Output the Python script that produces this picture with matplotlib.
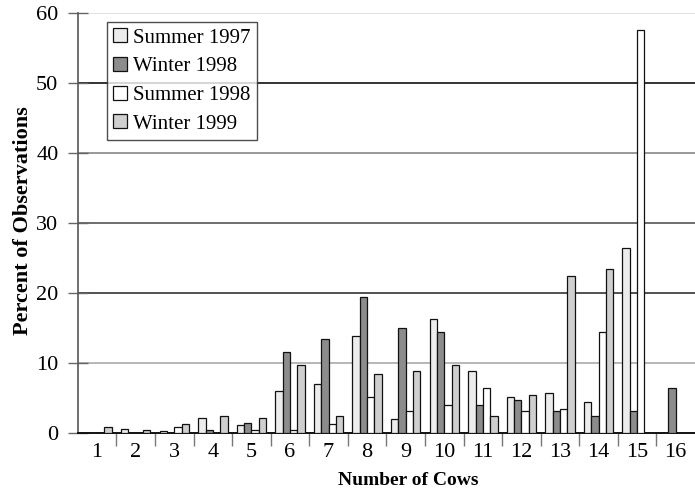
import matplotlib.pyplot as plt
import numpy as np

plt.rcParams["font.family"] = ["Liberation Serif", "DejaVu Serif"]

cows = list(range(1, 17))
summer_1997 = [0, 0.6, 0.3, 2.1, 1.2, 6.0, 7.0, 13.9, 2.0, 16.3, 8.8, 5.2, 5.8, 4.4, 26.4, 0]
winter_1998 = [0, 0, 0, 0.5, 1.4, 11.6, 13.4, 19.4, 15.0, 14.5, 4.0, 4.8, 3.1, 2.4, 3.1, 6.4]
summer_1998 = [0, 0, 0.9, 0, 0.5, 0.5, 1.3, 5.2, 3.1, 4.0, 6.4, 3.1, 3.5, 14.5, 57.5, 0]
winter_1999 = [0.9, 0.4, 1.3, 2.5, 2.1, 9.7, 2.4, 8.4, 8.8, 9.7, 2.4, 5.5, 22.5, 23.4, 0, 0]

series = [
    ("Summer 1997", summer_1997, "#ececec"),
    ("Winter 1998", winter_1998, "#8c8c8c"),
    ("Summer 1998", summer_1998, "#ffffff"),
    ("Winter 1999", winter_1999, "#cfcfcf"),
]

fig = plt.figure(figsize=(6.95, 4.95), dpi=100)
ax = fig.add_axes([0.112, 0.125, 0.888, 0.849])

x = np.array(cows, dtype=float)
width = 0.19
for i, (label, vals, color) in enumerate(series):
    # empty classes are left out instead of drawing flat outlines on the axis
    heights = np.where(np.array(vals) > 0, vals, np.nan)
    ax.bar(x + (i - 1.5) * width, heights, width, color=color, edgecolor="#111111",
           linewidth=0.9, label=label, zorder=3)

# horizontal grid, shades copied from the scanned figure
grid_colors = {10: "#aaaaaa", 20: "#333333", 30: "#555555", 40: "#888888",
               50: "#111111", 60: "#dddddd"}
for level, c in grid_colors.items():
    ax.axhline(level, color=c, linewidth=1.2, zorder=1)

ax.set_xlim(0.5, 16.5)
ax.set_ylim(0, 60)
ax.set_xticks(cows)
ax.set_xticks(np.arange(1.5, 16, 1.0), minor=True)
ax.tick_params(axis="x", which="major", length=0, labelsize=16, pad=7)
ax.tick_params(axis="x", which="minor", length=9, color="#777777", width=1)
ax.set_yticks(range(0, 61, 10))
ax.tick_params(axis="y", direction="inout", length=14, color="#666666",
               width=1, labelsize=16, pad=7)

for side in ("top", "right"):
    ax.spines[side].set_visible(False)
ax.spines["left"].set_color("#555555")
ax.spines["left"].set_linewidth(1.2)
ax.spines["bottom"].set_color("#111111")
ax.spines["bottom"].set_linewidth(1.4)

ax.set_xlabel("Number of Cows", fontsize=14, fontweight="bold")
ax.xaxis.set_label_coords(0.535, -0.092)
ax.set_ylabel("Percent of Observations", fontsize=16, fontweight="bold")
ax.yaxis.set_label_coords(-0.072, 0.505)

leg = ax.legend(loc="upper left", bbox_to_anchor=(0.047, 0.978), fontsize=15,
                frameon=True, fancybox=False, edgecolor="#222222",
                handlelength=0.65, handleheight=0.65, handletextpad=0.3,
                labelspacing=0.45, borderpad=0.3, borderaxespad=0)
leg.get_frame().set_linewidth(1.0)
leg.set_zorder(5)

fig.savefig("out.png", dpi=100, facecolor="white")
